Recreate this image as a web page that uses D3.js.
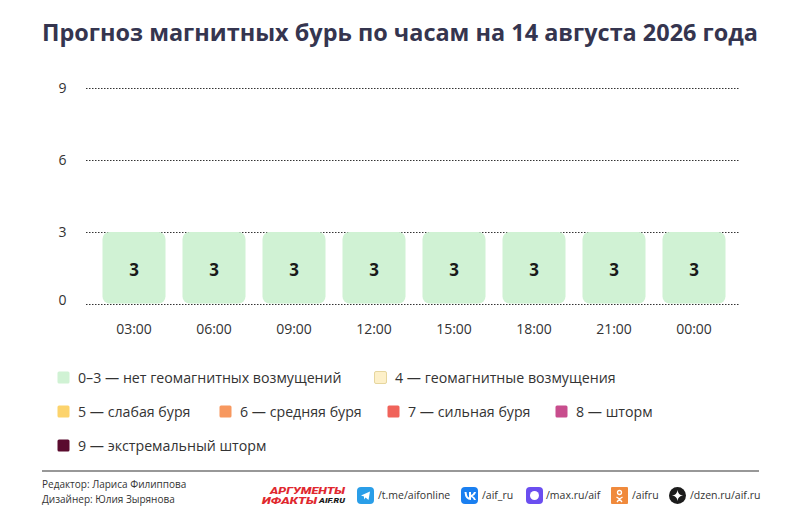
<!DOCTYPE html>
<html>
<head>
<meta charset="utf-8">
<script src="https://cdn.jsdelivr.net/npm/d3@7"></script>
<style>
	body { margin: 0; background: #fff; }
	svg { display: block; font-family: 'Open Sans', sans-serif; }
</style>
</head>
<body>
<svg id="chart"></svg>
<script>
// Chart data
const hours = [ '03:00', '06:00', '09:00', '12:00', '15:00', '18:00', '21:00', '00:00' ];
const kpValues = [ 3, 3, 3, 3, 3, 3, 3, 3 ];
const yTicks = [ 0, 3, 6, 9 ];

const legendLabels = [
	'0–3 — нет геомагнитных возмущений',
	'4 — геомагнитные возмущения',
	'5 — слабая буря',
	'6 — средняя буря',
	'7 — сильная буря',
	'8 — шторм',
	'9 — экстремальный шторм',
];
const legendColors = [ '#d0f2d4', '#fdf0c9', '#fcd36c', '#f7985f', '#f0635a', '#c84d8d', '#5a0b2e' ];

const socialLinks = [ '/t.me/aifonline', '/aif_ru', '/max.ru/aif', '/aifru', '/dzen.ru/aif.ru' ];

const width = 800;
const height = 531;

const svg = d3.select( '#chart' )
	.attr( 'width', width )
	.attr( 'height', height );

/**
 * Title
 */
svg.append( 'text' )
	.attr( 'x', 400 )
	.attr( 'y', 41 )
	.attr( 'text-anchor', 'middle' )
	.attr( 'font-size', 24 )
	.attr( 'font-weight', 700 )
	.attr( 'fill', '#35354f' )
	.attr( 'textLength', 716 )
	.attr( 'lengthAdjust', 'spacingAndGlyphs' )
	.text( 'Прогноз магнитных бурь по часам на 14 августа 2026 года' );

/**
 * Scales
 */
const xScale = d3.scaleBand()
	.domain( hours )
	.range( [ 94, 734 ] )
	.paddingInner( 0.2125 )
	.paddingOuter( 0.10625 );

const yScale = d3.scaleLinear()
	.domain( [ 0, 9 ] )
	.range( [ 304, 88 ] );

// grid lines
svg.append( 'g' )
	.selectAll( 'line' )
	.data( yTicks )
	.join( 'line' )
	.attr( 'x1', 86 )
	.attr( 'x2', 740 )
	.attr( 'y1', ( d ) => Math.round( yScale( d ) ) + 0.5 )
	.attr( 'y2', ( d ) => Math.round( yScale( d ) ) + 0.5 )
	.attr( 'stroke', '#333' )
	.attr( 'stroke-width', 1 )
	.attr( 'stroke-dasharray', '1.5,1.5' );

// y axis labels
svg.append( 'g' )
	.selectAll( 'text' )
	.data( yTicks )
	.join( 'text' )
	.attr( 'x', 62.5 )
	.attr( 'y', ( d ) => yScale( d ) + ( d === 0 ? 1 : 5 ) )
	.attr( 'text-anchor', 'middle' )
	.attr( 'font-size', 14 )
	.attr( 'fill', '#333' )
	.text( ( d ) => d );

// bars
svg.append( 'g' )
	.selectAll( 'rect' )
	.data( kpValues )
	.join( 'rect' )
	.attr( 'x', ( d, i ) => xScale( hours[ i ] ) )
	.attr( 'y', ( d ) => yScale( d ) )
	.attr( 'width', xScale.bandwidth() )
	.attr( 'height', ( d ) => yScale( 0 ) - yScale( d ) - 0.5 )
	.attr( 'rx', 7 )
	.attr( 'fill', legendColors[ 0 ] );

// value labels
svg.append( 'g' )
	.selectAll( 'text' )
	.data( kpValues )
	.join( 'text' )
	.attr( 'x', ( d, i ) => xScale( hours[ i ] ) + xScale.bandwidth() / 2 )
	.attr( 'y', ( d ) => ( yScale( d ) + yScale( 0 ) ) / 2 + 8 )
	.attr( 'text-anchor', 'middle' )
	.attr( 'font-size', 17 )
	.attr( 'font-weight', 700 )
	.attr( 'fill', '#1a1a1a' )
	.text( ( d ) => d );

// x axis labels
svg.append( 'g' )
	.selectAll( 'text' )
	.data( hours )
	.join( 'text' )
	.attr( 'x', ( d ) => xScale( d ) + xScale.bandwidth() / 2 )
	.attr( 'y', 334 )
	.attr( 'text-anchor', 'middle' )
	.attr( 'font-size', 14 )
	.attr( 'fill', '#333' )
	.text( ( d ) => d );

/**
 * Legend
 */
const legendPos = [
	[ 57, 378 ], [ 374, 378 ],
	[ 57, 412 ], [ 219, 412 ], [ 387, 412 ], [ 555, 412 ],
	[ 57, 446 ],
];

const legend = svg.append( 'g' )
	.selectAll( 'g' )
	.data( legendLabels )
	.join( 'g' )
	.attr( 'transform', ( d, i ) => `translate(${ legendPos[ i ][ 0 ] },${ legendPos[ i ][ 1 ] })` );

legend.append( 'rect' )
	.attr( 'x', 0.5 )
	.attr( 'y', -6.5 )
	.attr( 'width', 12 )
	.attr( 'height', 12 )
	.attr( 'rx', 1.5 )
	.attr( 'fill', ( d, i ) => legendColors[ i ] )
	.attr( 'stroke', ( d, i ) => ( i === 1 ? '#e6d69e' : 'none' ) )
	.attr( 'stroke-width', 1 );

legend.append( 'text' )
	.attr( 'x', 21 )
	.attr( 'y', 5 )
	.attr( 'font-size', 14.2 )
	.attr( 'fill', '#333' )
	.text( ( d ) => d );

/**
 * Footer
 */
svg.append( 'line' )
	.attr( 'x1', 42 )
	.attr( 'x2', 759 )
	.attr( 'y1', 471 )
	.attr( 'y2', 471 )
	.attr( 'stroke', '#333' )
	.attr( 'stroke-width', 1.2 );

svg.append( 'text' )
	.attr( 'x', 42 )
	.attr( 'y', 488 )
	.attr( 'font-size', 10 )
	.attr( 'fill', '#333' )
	.text( 'Редактор: Лариса Филиппова' );

svg.append( 'text' )
	.attr( 'x', 42 )
	.attr( 'y', 503 )
	.attr( 'font-size', 10 )
	.attr( 'fill', '#333' )
	.text( 'Дизайнер: Юлия Зырянова' );

// logo
const logo = svg.append( 'g' )
	.attr( 'font-family', 'Roboto, sans-serif' )
	.attr( 'font-weight', 900 )
	.attr( 'font-style', 'italic' )
	.attr( 'fill', '#e0282f' );

logo.append( 'text' )
	.attr( 'x', 270 )
	.attr( 'y', 493.5 )
	.attr( 'font-size', 9 )
	.attr( 'textLength', 75 )
	.attr( 'lengthAdjust', 'spacingAndGlyphs' )
	.text( 'АРГУМЕНТЫ' );

logo.append( 'text' )
	.attr( 'x', 262 )
	.attr( 'y', 503.5 )
	.attr( 'font-size', 9 )
	.attr( 'textLength', 55 )
	.attr( 'lengthAdjust', 'spacingAndGlyphs' )
	.text( 'ИФАКТЫ' );

logo.append( 'text' )
	.attr( 'x', 319 )
	.attr( 'y', 503 )
	.attr( 'font-size', 7.5 )
	.attr( 'fill', '#1a1a1a' )
	.attr( 'textLength', 26 )
	.attr( 'lengthAdjust', 'spacingAndGlyphs' )
	.text( 'AIF.RU' );

// social icons
const iconX = [ 357, 461, 526, 611, 669 ];
const textX = [ 378, 482, 546, 632, 690 ];
const iconColors = [ '#2a9ee8', '#1a7ff0', '#6b4ef0', '#f08a3c', '#1c1c1c' ];

const social = svg.append( 'g' )
	.selectAll( 'g' )
	.data( socialLinks )
	.join( 'g' );

social.append( 'rect' )
	.attr( 'x', ( d, i ) => iconX[ i ] )
	.attr( 'y', 487 )
	.attr( 'width', 17 )
	.attr( 'height', 17 )
	.attr( 'rx', ( d, i ) => ( i === 4 ? 8.5 : i === 3 ? 1 : 4 ) )
	.attr( 'fill', ( d, i ) => iconColors[ i ] );

social.append( 'text' )
	.attr( 'x', ( d, i ) => textX[ i ] )
	.attr( 'y', 499 )
	.attr( 'font-size', 10.5 )
	.attr( 'fill', '#333' )
	.text( ( d ) => d );

// small glyphs inside the icons
const glyphs = svg.append( 'g' ).attr( 'fill', '#fff' );
glyphs.append( 'path' )
	.attr( 'd', 'M361,495.5 L370,491.5 L368.5,500 L365.5,497.5 L364,499.5 L364,496.5 Z' );
glyphs.append( 'path' )
	.attr( 'd', 'M464.5,492 L466.5,492 Q467,497 469,497.5 L469,492 L471,492 L471,495 Q473,494.5 474,492 L476,492 Q475,495.5 472.5,496 Q475,497 476,500 L474,500 Q473,497.5 471,497 L471,500 Q465,500 464.5,492 Z' );
glyphs.append( 'circle' )
	.attr( 'cx', 534.5 )
	.attr( 'cy', 495.5 )
	.attr( 'r', 4.5 );
glyphs.append( 'circle' )
	.attr( 'cx', 619.5 )
	.attr( 'cy', 492.5 )
	.attr( 'r', 2 )
	.attr( 'fill', 'none' )
	.attr( 'stroke', '#fff' )
	.attr( 'stroke-width', 1.3 );
glyphs.append( 'path' )
	.attr( 'd', 'M616.5,497 L619.5,499 L622.5,497 M619.5,499 L617,502 M619.5,499 L622,502' )
	.attr( 'fill', 'none' )
	.attr( 'stroke', '#fff' )
	.attr( 'stroke-width', 1.3 );
glyphs.append( 'path' )
	.attr( 'd', 'M677.5,490 Q678,495 683,495.5 Q678,496 677.5,501 Q677,496 672,495.5 Q677,495 677.5,490 Z' );
</script>
</body>
</html>
